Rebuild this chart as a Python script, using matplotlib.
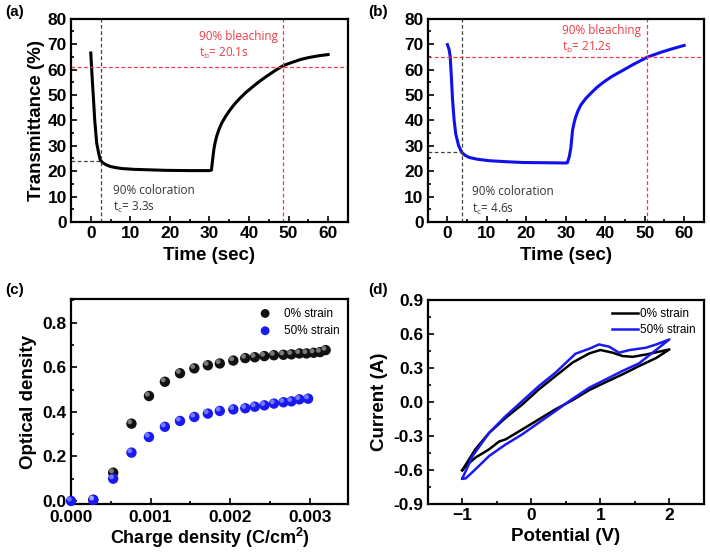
import matplotlib
matplotlib.use("Agg")
import matplotlib.pyplot as plt
import matplotlib.transforms as mtransforms
from matplotlib.ticker import MultipleLocator, FormatStrFormatter

plt.rcParams['font.family'] = ['Liberation Sans', 'DejaVu Sans']
plt.rcParams['mathtext.fontset'] = 'custom'
plt.rcParams['mathtext.rm'] = 'Liberation Sans'
plt.rcParams['mathtext.bf'] = 'Liberation Sans:bold'

# ---------------- data ----------------
# (a) 0% strain transmittance vs time
time_a = [0, 0.3, 0.7, 1.0, 1.5, 2.0, 2.4, 3.0, 4.0, 5.0, 6.6, 8.0, 10.8, 15, 19.2, 25, 30.0, 30.5,
          30.8, 31.1, 31.4, 31.8, 32.4, 33.1, 34.1, 35.2, 36.4, 37.7, 39.3, 41.0, 42.7, 44.4, 46.5,
          48.6, 50.3, 52.9, 55.0, 57.5, 60.0]
trans_a = [66.5, 58, 48, 40, 31, 27, 24.4, 23.3, 22.4, 21.8, 21.3, 21.0, 20.7, 20.5, 20.3, 20.2, 20.2, 20.4,
           24.5, 28.4, 31.0, 33.6, 36.4, 38.9, 41.6, 44.1, 46.5, 48.7, 51.1, 53.3, 55.4, 57.3, 59.5,
           61.5, 62.5, 63.9, 64.7, 65.4, 65.9]
tc_a, Tc_a = 2.5, 24.0
tb_a, Tb_a = 48.7, 60.9

# (b) 50% strain transmittance vs time
time_b = [0, 0.4, 0.7, 1.0, 1.3, 1.7, 2.1, 2.8, 3.6, 4.5, 5.5, 7.5, 10.6, 15, 19.0, 25, 30.0, 30.4,
          30.9, 31.3, 31.7, 32.1, 32.5, 33.1, 33.8, 35.0, 36.3, 37.9, 39.7, 41.7, 43.9, 47.2, 50.7,
          54.1, 57.0, 60.0]
trans_b = [69.8, 68, 65.2, 57, 48, 40, 34.7, 30.2, 27.4, 26.2, 25.4, 24.7, 24.1, 23.7, 23.4, 23.3, 23.2, 23.3,
           25.8, 29.4, 36.0, 39.0, 41.3, 43.8, 46.0, 48.5, 50.6, 53.0, 55.2, 57.3, 59.2, 62.1, 64.9,
           66.8, 68.2, 69.5]
tc_b, Tc_b = 3.6, 27.4
tb_b, Tb_b = 50.7, 64.8

# (c) optical density vs charge density
q_0 = [0.00028, 0.00053, 0.00076, 0.00098, 0.00118, 0.00137, 0.00155, 0.00172, 0.00187, 0.00204,
       0.00219, 0.00231, 0.00243, 0.00255, 0.00267, 0.00277, 0.00287, 0.00296, 0.00305, 0.00313, 0.00320]
od_0 = [0.005, 0.127, 0.347, 0.471, 0.535, 0.573, 0.595, 0.609, 0.617, 0.630,
        0.641, 0.645, 0.650, 0.654, 0.656, 0.658, 0.662, 0.662, 0.665, 0.668, 0.677]
q_50 = [0.0, 0.00028, 0.00053, 0.00076, 0.00098, 0.00118, 0.00137, 0.00155, 0.00172, 0.00187, 0.00204,
        0.00219, 0.00231, 0.00243, 0.00255, 0.00267, 0.00277, 0.00287, 0.00298]
od_50 = [0.0, 0.005, 0.10, 0.217, 0.287, 0.333, 0.359, 0.377, 0.392, 0.404, 0.411,
         0.416, 0.423, 0.429, 0.437, 0.443, 0.447, 0.456, 0.459]

# (d) cyclic voltammetry
v_0 = [-1.0, -0.81, -0.61, -0.37, -0.13, 0.11, 0.35, 0.60, 0.84, 1.00, 1.18, 1.32, 1.47, 1.66, 2.00,
       1.81, 1.56, 1.32, 1.08, 0.84, 0.60, 0.35, 0.11, -0.13, -0.37, -0.47, -0.61, -0.81, -0.95, -1.0]
i_0 = [-0.60, -0.415, -0.27, -0.137, -0.02, 0.113, 0.23, 0.35, 0.43, 0.46, 0.436, 0.407, 0.40, 0.42, 0.465,
       0.39, 0.318, 0.245, 0.177, 0.107, 0.019, -0.063, -0.151, -0.24, -0.327, -0.348, -0.415, -0.489, -0.563, -0.60]
v_50 = [-1.0, -0.85, -0.61, -0.37, -0.13, 0.11, 0.35, 0.64, 0.84, 0.98, 1.13, 1.27, 1.42, 1.66, 1.81, 2.00,
        1.56, 1.32, 1.08, 0.84, 0.60, 0.35, 0.11, -0.13, -0.37, -0.61, -0.81, -0.95, -1.0]
i_50 = [-0.674, -0.474, -0.27, -0.122, 0.01, 0.142, 0.26, 0.427, 0.471, 0.509, 0.489, 0.436, 0.459, 0.48, 0.509, 0.553,
        0.342, 0.275, 0.201, 0.128, 0.031, -0.078, -0.18, -0.283, -0.372, -0.474, -0.592, -0.672, -0.674]

# ---------------- figure ----------------
fig = plt.figure(figsize=(7.10, 5.52), dpi=100)
ax_a = fig.add_axes([0.100, 0.598, 0.390, 0.368])
ax_b = fig.add_axes([0.6024, 0.598, 0.389, 0.368])
ax_c = fig.add_axes([0.100, 0.0864, 0.390, 0.3714])
ax_d = fig.add_axes([0.6024, 0.0864, 0.389, 0.370])

TICK_FS = 12.5
LABEL_FS = 13.5
ANN_FONT = ['Open Sans', 'DejaVu Sans']
RED = '#ee3b44'
GRAY = '#444444'


def style(ax, xpad=3):
    for s in ax.spines.values():
        s.set_linewidth(1.6)
    ax.tick_params(which='both', direction='in', top=False, right=False, width=1.2)
    ax.tick_params(which='major', length=4.5, labelsize=TICK_FS, pad=3)
    ax.tick_params(axis='x', which='major', pad=xpad)
    ax.tick_params(which='minor', length=2.5)
    for lab in ax.get_xticklabels() + ax.get_yticklabels():
        lab.set_fontweight('bold')


def transient(ax, t, T, color, tc, Tc, tb, Tb, tbtxt, tctxt, bpos, cpos):
    ax.plot(t, T, color=color, lw=2.2, solid_joinstyle='round')
    ax.set_xlim(-5, 65)
    ax.set_ylim(0, 80)
    ax.xaxis.set_major_locator(MultipleLocator(10))
    ax.xaxis.set_minor_locator(MultipleLocator(5))
    ax.yaxis.set_major_locator(MultipleLocator(10))
    ax.yaxis.set_minor_locator(MultipleLocator(5))
    ax.axvline(tc, color=GRAY, lw=0.9, ls=(0, (3, 2)))
    ax.plot([-5, tc], [Tc, Tc], color=GRAY, lw=0.9, ls=(0, (3, 2)))
    ax.axvline(tb, color=RED, lw=0.9, ls=(0, (3, 2)))
    ax.axhline(Tb, color=RED, lw=0.9, ls=(0, (3, 2)))
    ax.text(bpos[0], bpos[1], '90% bleaching', color=RED, fontsize=8.5, family=ANN_FONT, va='center')
    ax.text(bpos[0], bpos[1] - 6.6, tbtxt, color=RED, fontsize=8.5, family=ANN_FONT, va='center')
    ax.text(cpos[0], cpos[1], '90% coloration', color='#333333', fontsize=8.5, family=ANN_FONT, va='center')
    ax.text(cpos[0], cpos[1] - 7.0, tctxt, color='#333333', fontsize=8.5, family=ANN_FONT, va='center')
    ax.set_xlabel('Time (sec)', fontsize=LABEL_FS, fontweight='bold', labelpad=4)
    style(ax)


plt.rcParams['mathtext.rm'] = 'Open Sans'
transient(ax_a, time_a, trans_a, 'black', tc_a, Tc_a, tb_a, Tb_a,
          r't$_\mathrm{b}$= 20.1s', r't$_\mathrm{c}$= 3.3s', (27.4, 73.1), (5.6, 12.5))
ax_a.set_ylabel('Transmittance (%)', fontsize=LABEL_FS, fontweight='bold', labelpad=2)
transient(ax_b, time_b, trans_b, '#1010ee', tc_b, Tc_b, tb_b, Tb_b,
          r't$_\mathrm{b}$= 21.2s', r't$_\mathrm{c}$= 4.6s', (29.0, 75.5), (6.2, 11.9))


# (c) spheres
def spheres(ax, x, y, base, hi, label):
    ax.scatter(x, y, s=56, color=base, edgecolors='none', zorder=3, label=label, clip_on=False)
    tr = mtransforms.offset_copy(ax.transData, fig=fig, x=-1.2, y=1.3, units='points')
    ax.scatter(x, y, s=12, color=hi, edgecolors='none', alpha=0.55, zorder=4, transform=tr, clip_on=False)


spheres(ax_c, q_0, od_0, '#111111', '#d0d0d0', '0% strain')
spheres(ax_c, q_50, od_50, '#1a1af0', '#b8c8ff', '50% strain')
ax_c.set_xlim(0, 0.00348)
ax_c.set_ylim(-0.015, 0.905)
ax_c.xaxis.set_major_locator(MultipleLocator(0.001))
ax_c.xaxis.set_minor_locator(MultipleLocator(0.0005))
ax_c.xaxis.set_major_formatter(FormatStrFormatter('%.3f'))
ax_c.yaxis.set_major_locator(MultipleLocator(0.2))
ax_c.yaxis.set_minor_locator(MultipleLocator(0.1))
ax_c.yaxis.set_major_formatter(FormatStrFormatter('%.1f'))
ax_c.set_xlabel(r'Charge density (C/cm$^\mathbf{2}$)', fontsize=13, fontweight='bold', labelpad=1)
ax_c.set_ylabel('Optical density', fontsize=LABEL_FS, fontweight='bold', labelpad=4)
ax_c.legend(loc='upper right', frameon=False, fontsize=8.5, handletextpad=0.6,
            borderaxespad=0.3, labelspacing=0.45, markerscale=0.85)
style(ax_c, xpad=4)

# (d) CV
ax_d.plot(v_0, i_0, color='black', lw=1.8, label='0% strain')
ax_d.plot(v_50, i_50, color='#1a1af0', lw=1.8, label='50% strain')
ax_d.set_xlim(-1.5, 2.5)
ax_d.set_ylim(-0.9, 0.9)
ax_d.xaxis.set_major_locator(MultipleLocator(1))
ax_d.xaxis.set_minor_locator(MultipleLocator(0.5))
ax_d.yaxis.set_major_locator(MultipleLocator(0.3))
ax_d.yaxis.set_minor_locator(MultipleLocator(0.15))
ax_d.yaxis.set_major_formatter(FormatStrFormatter('%.1f'))
ax_d.set_xlabel('Potential (V)', fontsize=LABEL_FS, fontweight='bold', labelpad=3)
ax_d.set_ylabel('Current (A)', fontsize=LABEL_FS, fontweight='bold', labelpad=4)
ax_d.legend(loc='upper right', frameon=False, fontsize=8.5, handlelength=2.2, handletextpad=0.2,
            borderaxespad=0.3, labelspacing=0.35)
style(ax_d)

# panel labels
for x, y, t in [(0.008, 0.978, '(a)'), (0.518, 0.978, '(b)'), (0.008, 0.475, '(c)'), (0.518, 0.475, '(d)')]:
    fig.text(x, y, t, fontsize=11, fontweight='bold', va='center', ha='left')

fig.savefig('out.png', dpi=100)
